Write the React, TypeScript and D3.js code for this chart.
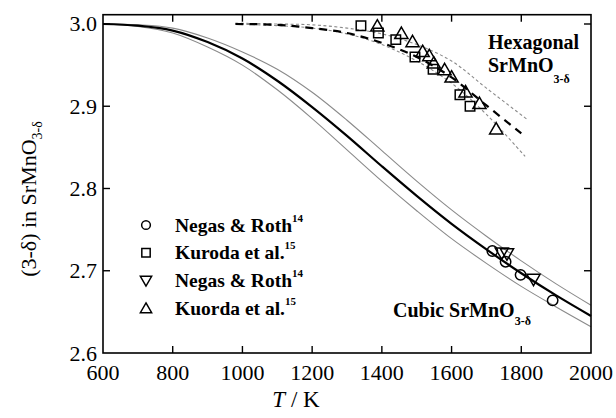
import React from "react";
import * as d3 from "d3";

// Temperature axis and stoichiometry axis ticks
const tempTicks = [600, 800, 1000, 1200, 1400, 1600, 1800, 2000];
const stoichTicks = [2.6, 2.7, 2.8, 2.9, 3.0];

// Cubic SrMnO3-δ: calculated curve with its upper / lower bounds
const cubicT = [600, 700, 800, 900, 1000, 1100, 1200, 1300, 1400, 1500, 1600, 1700, 1800, 1900, 2000];
const cubicFit = [3.0, 2.998, 2.992, 2.978, 2.958, 2.931, 2.899, 2.864, 2.827, 2.791, 2.757, 2.726, 2.697, 2.67, 2.645];
const cubicUpper = [3.0, 2.999, 2.995, 2.983, 2.966, 2.945, 2.917, 2.883, 2.846, 2.809, 2.774, 2.742, 2.712, 2.684, 2.658];
const cubicLower = [3.0, 2.997, 2.989, 2.972, 2.95, 2.92, 2.885, 2.847, 2.809, 2.773, 2.739, 2.709, 2.681, 2.656, 2.632];

// Hexagonal SrMnO3-δ: calculated curve with its upper / lower bounds
const hexT = [980, 1100, 1200, 1300, 1400, 1500, 1600, 1700, 1800];
const hexFit = [3.0, 2.999, 2.995, 2.989, 2.977, 2.96, 2.935, 2.901, 2.867];
const hexUpperT = [980, 1100, 1200, 1300, 1400, 1500, 1600, 1700, 1820];
const hexUpper = [3.001, 3.0, 2.999, 2.995, 2.988, 2.975, 2.955, 2.922, 2.883];
const hexLowerT = [980, 1100, 1200, 1300, 1400, 1500, 1600, 1700, 1811];
const hexLower = [3.0, 2.998, 2.995, 2.988, 2.975, 2.955, 2.928, 2.89, 2.839];

// Experimental points
const negasCircleT = [1717, 1755, 1798, 1890];
const negasCircle = [2.724, 2.711, 2.695, 2.664];
const negasTriT = [1744, 1759, 1835];
const negasTri = [2.723, 2.722, 2.691];
const kurodaSquareT = [1340, 1390, 1440, 1495, 1547, 1624, 1653];
const kurodaSquare = [2.998, 2.989, 2.981, 2.96, 2.945, 2.914, 2.9];
const kuordaTriT = [1387, 1456, 1488, 1517, 1536, 1549, 1580, 1600, 1640, 1680, 1728];
const kuordaTri = [2.996, 2.987, 2.977, 2.965, 2.96, 2.951, 2.943, 2.934, 2.916, 2.902, 2.871];

const legendItems = [
  { shape: "circle", label: "Negas & Roth", ref: "14" },
  { shape: "square", label: "Kuroda et al.", ref: "15" },
  { shape: "down", label: "Negas & Roth", ref: "14" },
  { shape: "up", label: "Kuorda et al.", ref: "15" },
];

const FONT = "'Liberation Serif', 'Times New Roman', serif";

const x = d3.scaleLinear().domain([600, 2000]).range([103, 591]);
const y = d3.scaleLinear().domain([2.6, 3.0113]).range([353, 14.7]);

const line = d3
  .line<[number, number]>()
  .x((d) => x(d[0]))
  .y((d) => y(d[1]))
  .curve(d3.curveCatmullRom.alpha(0.5));

const zipPts = (ts: number[], vs: number[]) => ts.map((t, i) => [t, vs[i]] as [number, number]);

function markerPath(shape: string, size: number) {
  if (shape === "circle") return d3.symbol(d3.symbolCircle, size)()!;
  if (shape === "square") return d3.symbol(d3.symbolSquare, size)()!;
  return d3.symbol(d3.symbolTriangle, size)()!;
}

function Marker({ shape, cx, cy, size }: { shape: string; cx: number; cy: number; size: number }) {
  const rot = shape === "down" ? " rotate(180)" : "";
  return (
    <path
      d={markerPath(shape, size)}
      transform={`translate(${cx},${cy})${rot}`}
      fill="none"
      stroke="#000"
      strokeWidth={1.5}
    />
  );
}

export default function App() {
  const fmt = d3.format(".1f");
  const innerX = tempTicks.slice(1, -1);
  const innerY = stoichTicks.slice(1);
  const tick = 7;
  const x0 = x(600), x1 = x(2000), y0 = y(2.6), y1 = y(3.0113);

  return (
    <svg width={616} height={418} style={{ position: "absolute", left: 0, top: 0, background: "#fff" }} fontFamily={FONT}>
      <rect x={0} y={0} width={616} height={418} fill="#fff" />

      {/* cubic band */}
      <path d={line(zipPts(cubicT, cubicUpper))!} fill="none" stroke="#8a8a8a" strokeWidth={1.1} />
      <path d={line(zipPts(cubicT, cubicLower))!} fill="none" stroke="#8a8a8a" strokeWidth={1.1} />
      <path d={line(zipPts(cubicT, cubicFit))!} fill="none" stroke="#000" strokeWidth={2.2} />

      {/* hexagonal band */}
      <path d={line(zipPts(hexUpperT, hexUpper))!} fill="none" stroke="#8a8a8a" strokeWidth={1.1} strokeDasharray="3,2.5" />
      <path d={line(zipPts(hexLowerT, hexLower))!} fill="none" stroke="#8a8a8a" strokeWidth={1.1} strokeDasharray="3,2.5" />
      <path d={line(zipPts(hexT, hexFit))!} fill="none" stroke="#000" strokeWidth={2.2} strokeDasharray="8,6" />

      {/* data points */}
      {kurodaSquareT.map((t, i) => (
        <Marker key={`s${i}`} shape="square" cx={x(t)} cy={y(kurodaSquare[i])} size={90} />
      ))}
      {kuordaTriT.map((t, i) => (
        <Marker key={`u${i}`} shape="up" cx={x(t)} cy={y(kuordaTri[i])} size={75} />
      ))}
      {negasCircleT.map((t, i) => (
        <Marker key={`c${i}`} shape="circle" cx={x(t)} cy={y(negasCircle[i])} size={85} />
      ))}
      {negasTriT.map((t, i) => (
        <Marker key={`d${i}`} shape="down" cx={x(t)} cy={y(negasTri[i])} size={75} />
      ))}

      {/* frame */}
      <rect x={x0} y={y1} width={x1 - x0} height={y0 - y1} fill="none" stroke="#000" strokeWidth={1.6} />

      {/* ticks */}
      {innerX.map((t) => (
        <g key={`tx${t}`} stroke="#000" strokeWidth={1.4}>
          <line x1={x(t)} x2={x(t)} y1={y0} y2={y0 - tick} />
          <line x1={x(t)} x2={x(t)} y1={y1} y2={y1 + tick} />
        </g>
      ))}
      {innerY.map((v) => (
        <g key={`ty${v}`} stroke="#000" strokeWidth={1.4}>
          <line x1={x0} x2={x0 + tick} y1={y(v)} y2={y(v)} />
          <line x1={x1} x2={x1 - tick} y1={y(v)} y2={y(v)} />
        </g>
      ))}

      {/* tick labels */}
      {tempTicks.map((t) => (
        <text key={`lx${t}`} x={x(t)} y={380} textAnchor="middle" fontSize={22} fill="#000">
          {t}
        </text>
      ))}
      {stoichTicks.map((v) => (
        <text key={`ly${v}`} x={97} y={y(v) + 7.5} textAnchor="end" fontSize={22} fill="#000">
          {fmt(v)}
        </text>
      ))}

      {/* axis titles */}
      <text x={296} y={407} textAnchor="middle" fontSize={23} fill="#000">
        <tspan fontStyle="italic">T</tspan>
        <tspan> / K</tspan>
      </text>
      <text transform="translate(36,199) rotate(-90)" textAnchor="middle" fontSize={22} fill="#000">
        <tspan>(3-δ) in SrMnO</tspan>
        <tspan fontSize={14} dy={6}>3-δ</tspan>
      </text>

      {/* legend */}
      {legendItems.map((it, i) => {
        const cy = 225 + i * 27.8;
        return (
          <g key={`lg${i}`}>
            <Marker shape={it.shape} cx={146} cy={cy + (it.shape === "up" ? 1 : it.shape === "down" ? -1 : 0)} size={it.shape === "circle" ? 60 : it.shape === "square" ? 70 : 55} />
            <text x={175} y={cy + 6.5} fontSize={19.5} fontWeight="bold" fill="#000">
              {it.label}
              <tspan fontSize={11} dy={-10}>{it.ref}</tspan>
            </text>
          </g>
        );
      })}

      {/* phase annotations */}
      <text x={488} y={48.5} fontSize={20} fontWeight="bold" fill="#000">Hexagonal</text>
      <text x={488} y={71.5} fontSize={20} fontWeight="bold" fill="#000">
        SrMnO<tspan fontSize={12} dy={11}>3-δ</tspan>
      </text>
      <text x={393} y={317} fontSize={20} fontWeight="bold" fill="#000">
        Cubic SrMnO<tspan fontSize={12} dy={8}>3-δ</tspan>
      </text>
    </svg>
  );
}
